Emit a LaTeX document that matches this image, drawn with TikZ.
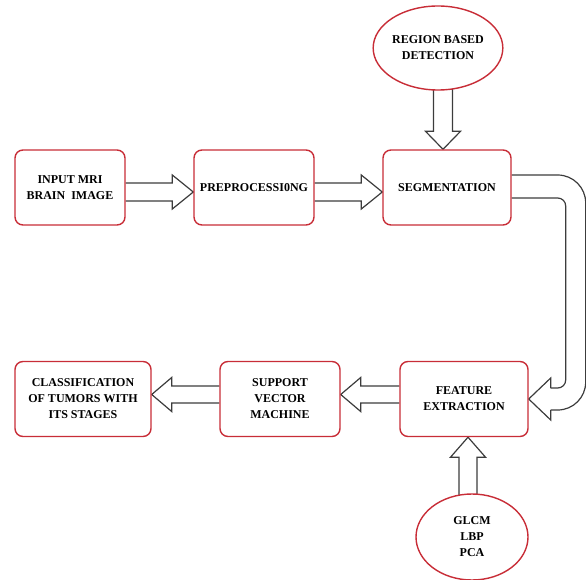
\documentclass[tikz,border=0pt]{standalone}
\usepackage{fontspec}
\setmainfont{Liberation Serif}
\usetikzlibrary{calc,backgrounds,shapes.geometric}
\definecolor{boxred}{RGB}{200,45,55}
\definecolor{arrgray}{RGB}{60,60,60}
\tikzset{
	box/.style={draw=boxred, line width=1.4pt, rounded corners=8pt, fill=white, align=center, minimum height=75pt, inner sep=2pt},
	oval/.style={ellipse, draw=boxred, line width=1.4pt, fill=white, align=center, minimum width=112pt, minimum height=84pt, inner sep=0pt},
	blk/.style={draw=arrgray, line width=1.2pt, line join=miter}
}
% hollow block arrows, #3 = offset of the arrow's axis
\newcommand{\rblock}[3]{\draw[blk] ($(#1.east)+(0,#3-9)$)--($(#2.west)+(-21,#3-9)$)--($(#2.west)+(-21,#3-17)$)--($(#2.west)+(0,#3)$)--($(#2.west)+(-21,#3+17)$)--($(#2.west)+(-21,#3+9)$)--($(#1.east)+(0,#3+9)$);}
\newcommand{\lblock}[3]{\draw[blk] ($(#1.west)+(0,#3-8.5)$)--($(#2.east)+(20,#3-8.5)$)--($(#2.east)+(20,#3-17)$)--($(#2.east)+(0,#3)$)--($(#2.east)+(20,#3+17)$)--($(#2.east)+(20,#3+8.5)$)--($(#1.west)+(0,#3+8.5)$);}
\newcommand{\dblock}[3]{\draw[blk] ($(#1.south -| #2.north)+(#3-9.5,-3)$)--($(#2.north)+(#3-9.5,-18)$)--($(#2.north)+(#3-17.5,-18)$)--($(#2.north)+(#3,0)$)--($(#2.north)+(#3+17.5,-18)$)--($(#2.north)+(#3+9.5,-18)$)--($(#1.south -| #2.north)+(#3+9.5,-3)$);}
\newcommand{\ublock}[3]{\draw[blk] ($(#1.north -| #2.south)+(#3-9,3)$)--($(#2.south)+(#3-9,20)$)--($(#2.south)+(#3-17.5,20)$)--($(#2.south)+(#3,0)$)--($(#2.south)+(#3+17.5,20)$)--($(#2.south)+(#3+9,20)$)--($(#1.north -| #2.south)+(#3+9,3)$);}
\begin{document}
\begin{tikzpicture}[x=1pt, y=-1pt, font=\bfseries\fontsize{12}{16}\selectfont]
	\useasboundingbox (0,0) rectangle (586,580);
	\node[box, minimum width=110pt] (inp) at (70,187.5) {INPUT MRI\\BRAIN\ \ IMAGE};
	\node[box, minimum width=120pt] (pre) at (254,187.5) {PREPROCESSI0NG};
	\node[box, minimum width=128pt] (seg) at (447,187.5) {SEGMENTATION};
	\node[oval] (reg) at (438,48) {REGION BASED\\DETECTION};
	\node[box, minimum width=128pt] (feat) at (464,399) {FEATURE\\EXTRACTION};
	\node[box, minimum width=120pt] (svm) at (280,399) {SUPPORT\\VECTOR\\MACHINE};
	\node[box, minimum width=136pt] (cls) at (83,399) {CLASSIFICATION\\OF TUMORS WITH\\ITS STAGES};
	\node[oval, minimum height=86pt] (glcm) at (472,537) {GLCM\\LBP\\PCA};
	\begin{scope}[on background layer]
		\rblock{inp}{pre}{4.5}
		\rblock{pre}{seg}{4.5}
		\lblock{feat}{svm}{-4.5}
		\lblock{svm}{cls}{-4.5}
		\dblock{reg}{seg}{-4}
		\ublock{glcm}{feat}{4}
		% bent arrow from segmentation down to feature extraction
		\draw[blk, rounded corners=28pt] ($(seg.east)+(0,-12.5)$)--($(seg.east)+(74,-12.5)$)--($(feat.east)+(57,11)$)--($(feat.east)+(22,11)$);
		\draw[blk, rounded corners=8pt] ($(seg.east)+(0,10.5)$)--($(seg.east)+(54,10.5)$)--($(feat.east)+(37,-11)$)--($(feat.east)+(22,-11)$);
		\draw[blk] ($(feat.east)+(22,-11)$)--($(feat.east)+(22,-21)$)--(feat.east)--($(feat.east)+(22,21)$)--($(feat.east)+(22,11)$);
	\end{scope}
\end{tikzpicture}
\end{document}
